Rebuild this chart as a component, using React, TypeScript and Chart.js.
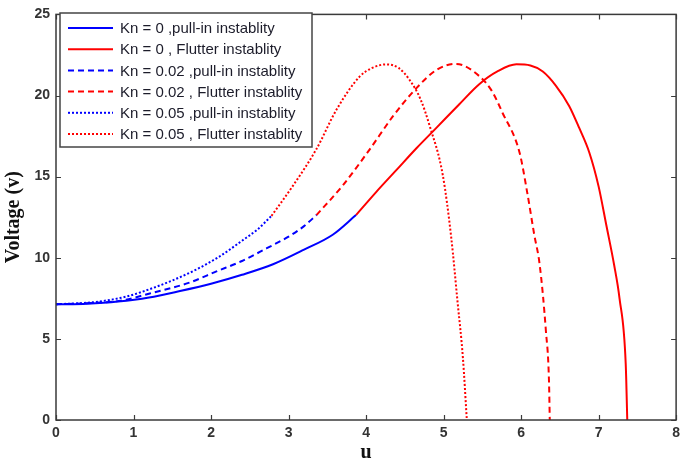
import React, { useEffect, useRef } from "react";
import { Chart, registerables } from "chart.js";

Chart.register(...registerables);

// ---- data ----
const kn0PullU = [0, 0.4, 0.8, 1.2, 1.6, 2.0, 2.4, 2.8, 3.2, 3.57, 3.87];
const kn0PullV = [7.13, 7.17, 7.3, 7.55, 7.95, 8.4, 8.95, 9.6, 10.5, 11.42, 12.63];

const kn0FlutU = [3.87, 4.13, 4.39, 4.65, 4.91, 5.2, 5.46, 5.7, 5.94, 6.12, 6.28, 6.45, 6.62, 6.75, 6.88, 7.0, 7.1, 7.2, 7.27, 7.35, 7.37];
const kn0FlutV = [12.63, 14.05, 15.4, 16.75, 18.02, 19.45, 20.7, 21.5, 21.92, 21.85, 21.48, 20.6, 19.36, 18.0, 16.49, 14.4, 12.0, 9.57, 7.5, 3.46, 0];

const kn002PullU = [0, 0.5, 0.86, 1.21, 1.71, 2.07, 2.4, 2.72, 3.0, 3.2, 3.36];
const kn002PullV = [7.13, 7.22, 7.37, 7.8, 8.45, 9.16, 9.8, 10.59, 11.3, 11.95, 12.63];

const kn002FlutU = [3.36, 3.7, 4.05, 4.35, 4.62, 4.91, 5.16, 5.46, 5.62, 5.76, 5.98, 6.08, 6.17, 6.24, 6.32, 6.36, 6.37];
const kn002FlutV = [12.63, 14.46, 16.7, 18.74, 20.3, 21.58, 21.95, 21.2, 20.3, 18.94, 16.49, 14.0, 11.42, 9.57, 5.5, 2.4, 0];

const kn005PullU = [0, 0.5, 0.9, 1.2, 1.5, 1.8, 2.1, 2.4, 2.6, 2.78];
const kn005PullV = [7.13, 7.27, 7.6, 8.05, 8.6, 9.25, 10.05, 11.05, 11.75, 12.58];

const kn005FlutU = [2.78, 3.06, 3.36, 3.62, 3.92, 4.08, 4.26, 4.42, 4.56, 4.7, 4.82, 4.99, 5.1, 5.18, 5.25, 5.3];
const kn005FlutV = [12.58, 14.46, 16.7, 19.14, 21.18, 21.7, 21.92, 21.7, 20.97, 19.8, 18.14, 15.09, 11.2, 7.3, 3.8, 0];

const seriesLabels = [
  "Kn = 0 ,pull-in instablity",
  "Kn = 0 , Flutter instablity",
  "Kn = 0.02 ,pull-in instablity",
  "Kn = 0.02 , Flutter instablity",
  "Kn = 0.05 ,pull-in instablity",
  "Kn = 0.05 , Flutter instablity",
];

const xTickValues = [0, 1, 2, 3, 4, 5, 6, 7, 8];
const yTickValues = [0, 5, 10, 15, 20, 25];

const xTitle = "u";
const yTitle = "Voltage (v)";

const BLUE = "#0000ff";
const RED = "#ff0000";
const AXIS = "#3a3a3a";

const pts = (u: number[], v: number[]) => u.map((x, i) => ({ x, y: v[i] }));

const framePlugin = {
  id: "matlabFrame",
  afterDraw(chart: any) {
    const { ctx, chartArea } = chart;
    const { left, right, top, bottom } = chartArea;
    const xs = chart.scales.x;
    const ys = chart.scales.y;
    ctx.save();
    ctx.strokeStyle = AXIS;
    ctx.lineWidth = 1.2;
    ctx.beginPath();
    xTickValues.forEach((t) => {
      const px = Math.round(xs.getPixelForValue(t)) + 0.5;
      ctx.moveTo(px, bottom);
      ctx.lineTo(px, bottom - 5);
      ctx.moveTo(px, top);
      ctx.lineTo(px, top + 5);
    });
    yTickValues.forEach((t) => {
      const py = Math.round(ys.getPixelForValue(t)) + 0.5;
      ctx.moveTo(left, py);
      ctx.lineTo(left + 5, py);
      ctx.moveTo(right, py);
      ctx.lineTo(right - 5, py);
    });
    ctx.stroke();
    ctx.lineWidth = 1.5;
    ctx.strokeRect(left, top, right - left, bottom - top);

    // legend box
    const bx = 60, by = 13, bw = 252, bh = 134;
    ctx.fillStyle = "#ffffff";
    ctx.fillRect(bx, by, bw, bh);
    ctx.strokeStyle = "#444444";
    ctx.lineWidth = 1.5;
    ctx.strokeRect(bx, by, bw, bh);
    ctx.font = "15px 'Liberation Sans', Arial, sans-serif";
    ctx.textBaseline = "middle";
    ctx.textAlign = "left";
    chart.data.datasets.forEach((ds: any, i: number) => {
      const y = 28 + i * 21.2;
      ctx.strokeStyle = ds.borderColor;
      ctx.lineWidth = 2;
      ctx.setLineDash(ds.borderDash || []);
      ctx.beginPath();
      ctx.moveTo(68, y);
      ctx.lineTo(113, y);
      ctx.stroke();
      ctx.setLineDash([]);
      ctx.fillStyle = "#1c1c2a";
      ctx.fillText(ds.label, 120, y + 1);
    });
    ctx.restore();
  },
};

export default function App() {
  const ref = useRef<HTMLCanvasElement | null>(null);

  useEffect(() => {
    if (!ref.current) return;
    const mk = (i: number, u: number[], v: number[], color: string, dash: number[]) => ({
      label: seriesLabels[i],
      data: pts(u, v),
      borderColor: color,
      backgroundColor: color,
      borderWidth: 2,
      borderDash: dash,
      showLine: true,
      pointRadius: 0,
      cubicInterpolationMode: "monotone",
      fill: false,
    });
    const chart = new Chart(ref.current, {
      type: "scatter",
      data: {
        datasets: [
          mk(0, kn0PullU, kn0PullV, BLUE, []),
          mk(1, kn0FlutU, kn0FlutV, RED, []),
          mk(2, kn002PullU, kn002PullV, BLUE, [6, 4]),
          mk(3, kn002FlutU, kn002FlutV, RED, [6, 4]),
          mk(4, kn005PullU, kn005PullV, BLUE, [2, 2]),
          mk(5, kn005FlutU, kn005FlutV, RED, [2, 2]),
        ],
      },
      plugins: [framePlugin],
      options: {
        animation: false,
        responsive: false,
        layout: { padding: { top: 10, right: 8, left: 0, bottom: 0 } },
        plugins: { legend: { display: false }, tooltip: { enabled: false } },
        scales: {
          x: {
            type: "linear",
            min: 0,
            max: 8,
            afterFit: (s: any) => { s.height = 45; },
            grid: { display: false, drawTicks: false },
            border: { display: false },
            ticks: {
              stepSize: 1,
              padding: 5,
              color: "#333333",
              font: { family: "'Liberation Sans', Arial, sans-serif", size: 14, weight: "bold" },
            },
            title: {
              display: true,
              text: xTitle,
              color: "#111111",
              padding: { top: 0, bottom: 0 },
              font: { family: "'Liberation Serif', 'Times New Roman', serif", size: 20, weight: "bold" },
            },
          },
          y: {
            type: "linear",
            min: 0,
            max: 25,
            afterFit: (s: any) => { s.width = 56; },
            grid: { display: false, drawTicks: false },
            border: { display: false },
            ticks: {
              stepSize: 5,
              padding: 6,
              color: "#333333",
              font: { family: "'Liberation Sans', Arial, sans-serif", size: 14, weight: "bold" },
            },
            title: {
              display: true,
              text: yTitle,
              color: "#111111",
              padding: { top: 2, bottom: 0 },
              font: { family: "'Liberation Serif', 'Times New Roman', serif", size: 20, weight: "bold" },
            },
          },
        },
      },
    } as any);
    return () => chart.destroy();
  }, []);

  return (
    <div style={{ position: "absolute", left: 0, top: 0, width: 685, height: 465, background: "#fff" }}>
      <canvas ref={ref} width={685} height={465} style={{ display: "block" }} />
    </div>
  );
}
